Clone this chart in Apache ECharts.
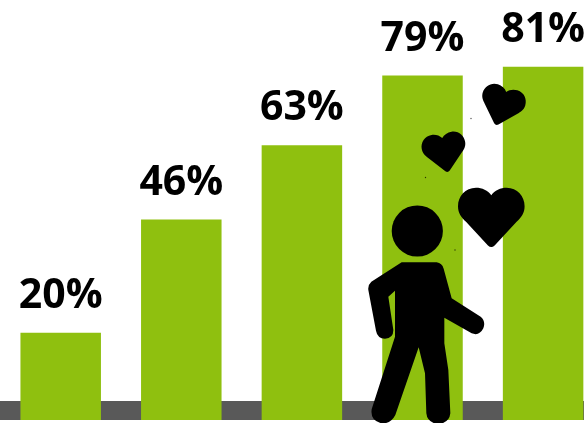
<!DOCTYPE html>
<html>
<head>
<meta charset="utf-8">
<style>html,body{margin:0;padding:0;background:#fff}#chart{width:584px;height:423px}</style>
<script src="https://cdn.jsdelivr.net/npm/echarts@6/dist/echarts.min.js"></script>
</head>
<body>
<div id="chart"></div>
<script>
// Survey shares, one bar per group
const categories = ['A', 'B', 'C', 'D', 'E'];
const shares = [20, 46, 63, 79, 81];

const GREEN = '#8fc00f';
const FLOOR = '#595959';
const INK = '#000000';

// Heart outline centred on its own origin
const heartPath = 'M0,-64 C-10,-78 -28,-86 -46,-86 C-78,-86 -100,-60 -100,-31 C-100,-10 -90,2 -76,16 L-10,87 Q0,96 10,87 L76,16 C90,2 100,-10 100,-31 C100,-60 78,-86 46,-86 C28,-86 10,-78 0,-64 Z';

// Standing figure, drawn at three times its final size
const bodyPath = 'M125,607 L230,607 Q246,609 251,626 L275,715 L362,770 Q378,784 370,805 Q358,829 335,820 L253,773 L253,850 L265,930 L271,1060 Q268,1089 235,1092 Q202,1089 199,1060 L195,940 L176,862 L106,1065 Q92,1092 65,1090 Q30,1082 35,1048 L105,830 L105,692 L85,710 L100,810 Q100,835 75,836 Q52,835 48,812 L25,690 Q23,675 34,665 Z';

const figureScale = 1 / 3;

function heart(x, y, size, rotation) {
  return {
    type: 'path', x: x, y: y, scaleX: size, scaleY: size, rotation: rotation,
    shape: { pathData: heartPath }, style: { fill: INK }
  };
}

function speck(cx, cy) {
  return { type: 'circle', shape: { cx: cx, cy: cy, r: 0.7 }, style: { fill: INK, opacity: 0.7 } };
}

// The figure and its hearts sit in front of the bars
function renderFigure() {
  return {
    type: 'group',
    children: [
      { type: 'circle', shape: { cx: 417.3, cy: 231, r: 25.6 }, style: { fill: INK } },
      {
        type: 'path', x: 360, y: 60, scaleX: figureScale, scaleY: figureScale,
        shape: { pathData: bodyPath }, style: { fill: INK }
      },
      heart(491.3, 216.5, 0.333, 0),
      heart(444.5, 152, 0.22, 0.16),
      heart(502, 105.5, 0.222, -0.3),
      speck(455, 250),
      speck(425.5, 177.5),
      speck(471, 118.5)
    ]
  };
}

const chart = echarts.init(document.getElementById('chart'), null, { renderer: 'canvas' });
chart.setOption({
  animation: false,
  backgroundColor: '#ffffff',
  grid: { left: 0.4, top: 27.6, width: 603, height: 392.4, outerBoundsMode: 'none' },
  xAxis: {
    type: 'category', data: categories,
    axisLine: { show: false }, axisTick: { show: false }, axisLabel: { show: false }
  },
  yAxis: { type: 'value', min: 0, max: 90, show: false },
  graphic: [
    { type: 'rect', shape: { x: 0, y: 401, width: 584, height: 19 }, style: { fill: FLOOR }, z: -1 }
  ],
  series: [{
    type: 'bar',
    data: shares,
    barWidth: 80.5,
    itemStyle: { color: GREEN },
    label: {
      show: true, position: 'top', distance: 16,
      formatter: '{c}%',
      fontFamily: 'Open Sans', fontWeight: 'bold', fontSize: 41, color: INK
    }
  }, {
    type: 'custom',
    coordinateSystem: 'none',
    data: [0],
    z: 10,
    silent: true,
    renderItem: renderFigure
  }]
});
</script>
</body>
</html>
